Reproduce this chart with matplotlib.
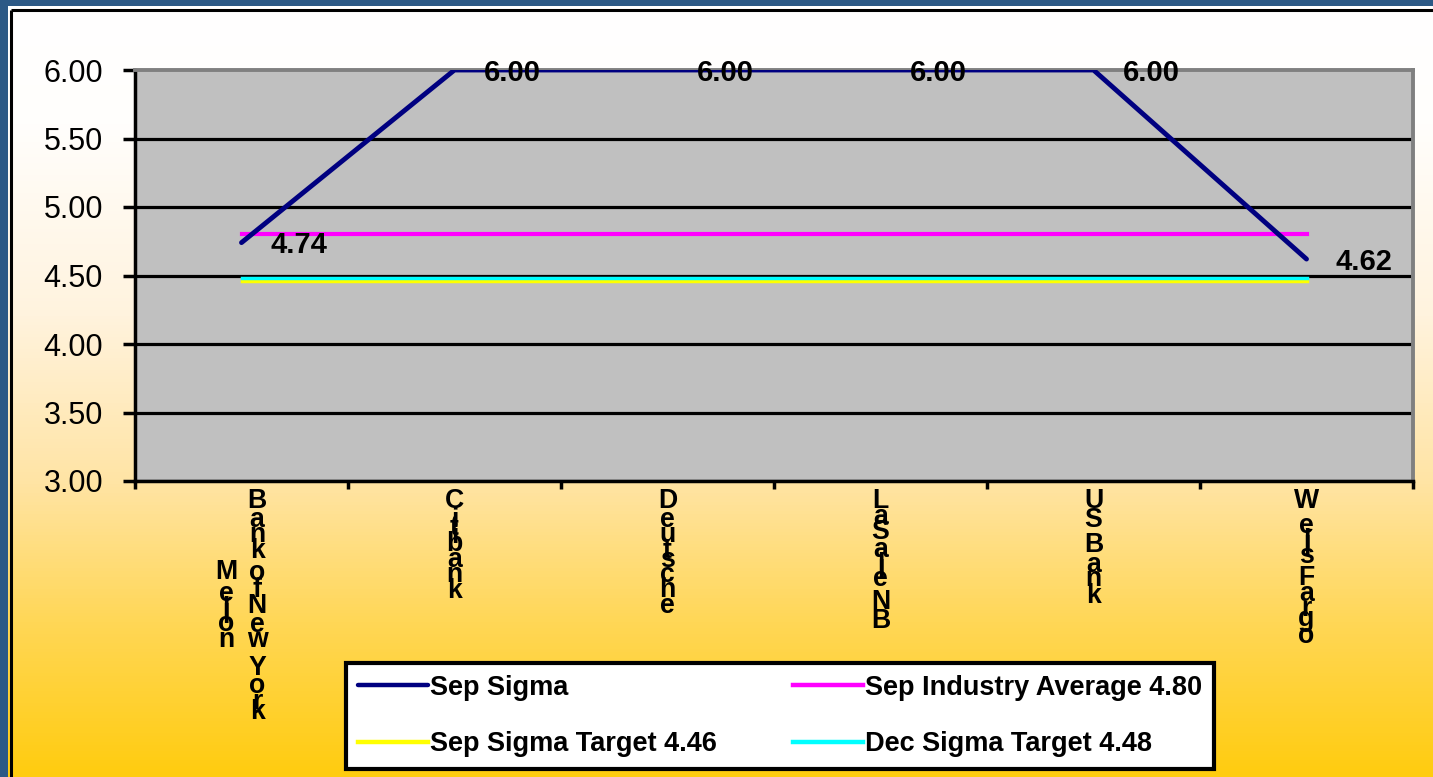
import numpy as np
import matplotlib
matplotlib.use("Agg")
import matplotlib.pyplot as plt
from matplotlib import font_manager
from matplotlib.ft2font import FT2Font
from matplotlib.colors import LinearSegmentedColormap

plt.rcParams['font.family'] = ['Liberation Sans', 'DejaVu Sans']

# chart data
banks = ["Mellon\nBank of New York", "Citibank", "Deutsche", "LaSalle NB", "US Bank", "Wells Fargo"]
sep_sigma = [4.74, 6.00, 6.00, 6.00, 6.00, 4.62]
sep_industry_avg = 4.80
sep_sigma_target = 4.46
dec_sigma_target = 4.48
y_ticks = [3.00, 3.50, 4.00, 4.50, 5.00, 5.50, 6.00]

W, H = 1433, 777
fig = plt.figure(figsize=(W / 100, H / 100), dpi=100)
fig.patch.set_facecolor('#2C5986')

# background panel with vertical gradient
bg = fig.add_axes([0, 0, 1, 1], zorder=-5)
bg.set_xlim(0, W)
bg.set_ylim(H, 0)
bg.axis('off')
cmap = LinearSegmentedColormap.from_list('bg', [(0.0, '#FFFFFF'), (0.15, '#FFFEFC'),
                                                 (0.40, '#FFF3DE'), (0.62, '#FFE4A4'),
                                                 (0.80, '#FFD757'), (1.0, '#FFCC10')])
grad = np.linspace(0, 1, 256).reshape(-1, 1)
bg.imshow(grad, cmap=cmap, aspect='auto', extent=(8, W, H, 6), interpolation='bilinear')
bg.plot([11.5, 11.5], [H, 9.5], color='black', lw=2.2, solid_capstyle='butt')
bg.plot([11.5, W], [9.5, 9.5], color='black', lw=2.2, solid_capstyle='butt')

# main plot area
ax = fig.add_axes([135 / W, 1 - 481 / H, (1413 - 135) / W, (481 - 70) / H])
ax.set_facecolor('#C0C0C0')
x = np.arange(len(banks))
n = len(banks)

ax.set_xlim(-0.5, n - 0.5)
ax.set_ylim(3.0, 6.0)
ax.set_yticks(y_ticks)
ax.set_yticklabels([f"{v:.2f}" for v in y_ticks], fontsize=22)
ax.set_xticks(np.arange(n + 1) - 0.5)
ax.set_xticklabels([])
ax.tick_params(axis='y', direction='out', length=9, width=2.5, pad=14, colors='black')
ax.tick_params(axis='x', direction='out', length=6, width=2.5)

ax.grid(axis='y', color='black', lw=2.3, zorder=1)
ax.set_axisbelow(True)
ax.yaxis.get_gridlines()[-1].set_visible(False)

for s in ['left', 'bottom']:
    ax.spines[s].set_color('black')
    ax.spines[s].set_linewidth(2.5)
for s in ['top', 'right']:
    ax.spines[s].set_color('#808080')
    ax.spines[s].set_linewidth(2.8)

l_yel, = ax.plot(x, [sep_sigma_target] * n, color='#FFFF00', lw=2.5, zorder=3,
                 label=f"Sep Sigma Target {sep_sigma_target:.2f}")
l_cyan, = ax.plot(x, [dec_sigma_target] * n, color='#00FFFF', lw=2.5, zorder=4,
                  label=f"Dec Sigma Target {dec_sigma_target:.2f}")
l_mag, = ax.plot(x, [sep_industry_avg] * n, color='#FF00FF', lw=3, zorder=5,
                 label=f"Sep Industry Average {sep_industry_avg:.2f}")
l_sig, = ax.plot(x, sep_sigma, color='#000080', lw=3.5, zorder=6, label="Sep Sigma",
                 solid_capstyle='round')

# data labels
for xi, v in zip(x, sep_sigma):
    ax.annotate(f"{v:.2f}", xy=(xi, v), xytext=(21, -2), textcoords='offset points',
                ha='left', va='center', fontsize=21, fontweight='bold', zorder=7,
                annotation_clip=False)

# stacked category labels: each letter moves down by its own advance width
fp = font_manager.FontProperties(family='Liberation Sans', weight='bold')
ft = FT2Font(font_manager.findfont(fp), hinting_factor=1)
ft.set_size(100, 72)

def advance(ch):
    return ft.load_char(ord(ch)).linearHoriAdvance / 65536 / 100

em = 26.6   # pixels
px = 0.72   # points per pixel at dpi 100
for xi, name in zip(x, banks):
    cols = name.split("\n")
    totals = [sum(advance(c) for c in col) * em for col in cols]
    ncol = len(cols)
    for ci, col in enumerate(cols):
        dx = (ci - (ncol - 1) / 2) * 31
        pos = 7 + (max(totals) - totals[ci]) / 2
        for ch in col:
            if ch != ' ':
                ax.annotate(ch, xy=(xi, 0), xycoords=('data', 'axes fraction'),
                            xytext=(dx * px, -pos * px), textcoords='offset points',
                            ha='center', va='top', fontsize=em * px, fontweight='bold',
                            annotation_clip=False)
            pos += advance(ch) * em

leg = fig.legend(handles=[l_sig, l_yel, l_mag, l_cyan], ncol=2, loc='center',
                 bbox_to_anchor=(780 / W, 1 - 716 / H),
                 handlelength=2.58, handletextpad=0.08, columnspacing=2.8,
                 labelspacing=1.12, borderpad=0.45, fancybox=False, framealpha=1,
                 facecolor='white', edgecolor='black', prop={'weight': 'bold', 'size': 19.5})
leg.get_frame().set_linewidth(3)
for h in leg.get_lines():
    h.set_linewidth(3.2)

fig.savefig("out.png", dpi=100, facecolor=fig.get_facecolor())
